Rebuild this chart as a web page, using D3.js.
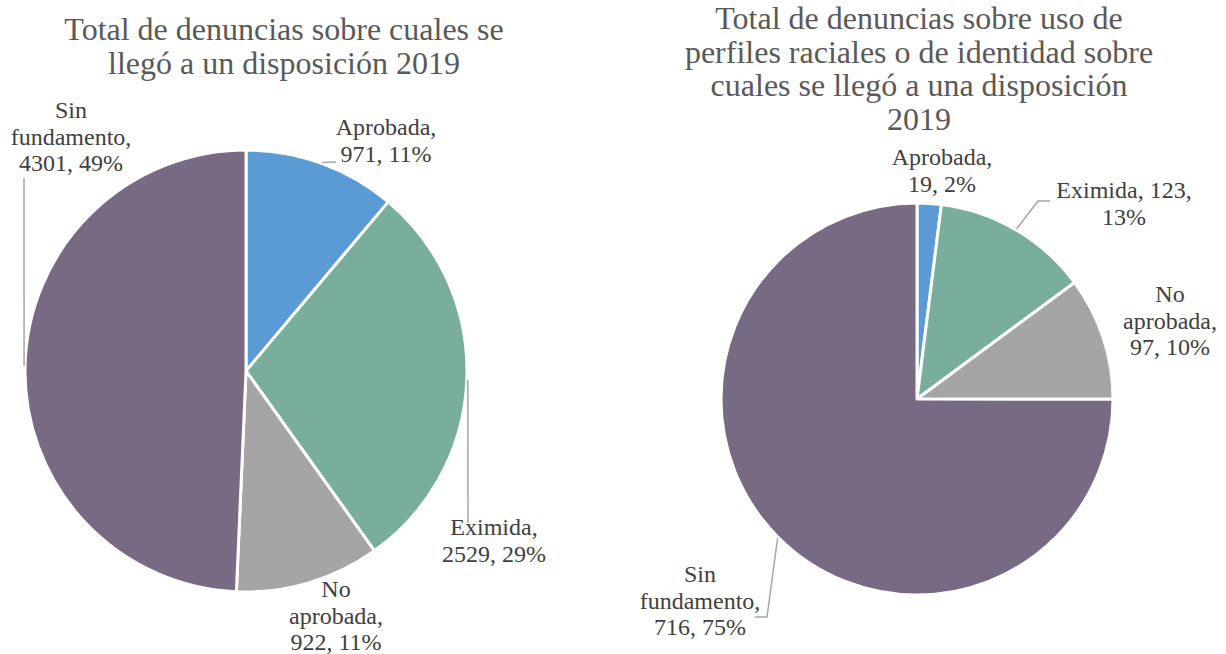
<!DOCTYPE html>
<html>
<head>
<meta charset="utf-8">
<script src="https://cdn.jsdelivr.net/npm/d3@7"></script>
<style>
  body{margin:0;background:#fff;}
  svg text{font-family:"Liberation Serif", Tinos, "Times New Roman", serif;}
</style>
</head>
<body>
<script>
// data
const categories = ["Aprobada","Eximida","No aprobada","Sin fundamento"]
const totalValues = [971,2529,922,4301]
const totalPct = ["11%","29%","11%","49%"]
const perfilValues = [19,123,97,716]
const perfilPct = ["2%","13%","10%","75%"]
const colors = ["#5b9bd5","#79ae9c","#a5a5a5","#786a82"]

const leftTitle = ["Total de denuncias sobre cuales se","llegó a un disposición 2019"]
const rightTitle = ["Total de denuncias sobre uso de","perfiles raciales o de identidad sobre","cuales se llegó a una disposición","2019"]

// label lines per slice (text split like the original)
const leftLabels = [
  ["Aprobada,","971, 11%"],
  ["Eximida,","2529, 29%"],
  ["No","aprobada,","922, 11%"],
  ["Sin","fundamento,","4301, 49%"]
]
const rightLabels = [
  ["Aprobada,","19, 2%"],
  ["Eximida, 123,","13%"],
  ["No","aprobada,","97, 10%"],
  ["Sin","fundamento,","716, 75%"]
]

let width = 1226, height = 654

const svg = d3.select("body").append("svg")
  .attr("width",width).attr("height",height)
  .style("display","block")

function pieChart(opt){
  const g = svg.append("g").attr("transform",`translate(${opt.cx},${opt.cy})`)
  const pie = d3.pie().sort(null).value(d=>d)
  const arcs = pie(opt.values)
  const arc = d3.arc().innerRadius(0).outerRadius(opt.r)

  g.selectAll("path.slice")
    .data(arcs)
    .enter()
    .append("path")
    .attr("class","slice")
    .attr("d",arc)
    .attr("fill",(d,i)=>colors[i])
    .attr("stroke","#fff")
    .attr("stroke-width",3)
    .attr("stroke-linejoin","round")

  // leader lines: start at the middle of each slice's outer edge
  arcs.forEach((a,i)=>{
    const pts = opt.leaders[i]
    if(!pts) return
    const m = (a.startAngle + a.endAngle)/2
    const start = [(opt.r+1)*Math.sin(m), -(opt.r+1)*Math.cos(m)]
    const line = [start].concat(pts.map(p=>[p[0]-opt.cx,p[1]-opt.cy]))
    g.append("path")
      .attr("d",d3.line()(line))
      .attr("fill","none")
      .attr("stroke","#a6a6a6")
      .attr("stroke-width",1.5)
  })

  // data labels
  opt.labels.forEach((lines,i)=>{
    const pos = opt.labelPos[i]
    const t = svg.append("text")
      .style("font-family",'"Liberation Serif", Tinos, serif')
      .attr("font-size",24)
      .attr("fill","#404040")
      .attr("text-anchor","middle")
    lines.forEach((s,j)=>{
      t.append("tspan").attr("x",pos[0]).attr("y",pos[1] + j*26.5).text(s)
    })
  })

  // title
  const tt = svg.append("text")
    .style("font-family",'"Liberation Serif", Tinos, serif')
    .attr("font-size",32)
    .attr("fill","#595959")
    .attr("text-anchor","middle")
  opt.title.forEach((s,j)=>{
    tt.append("tspan").attr("x",opt.titleX).attr("y",opt.titleY + j*33.5).text(s)
  })
}

pieChart({
  cx:246, cy:371, r:221,
  values:totalValues,
  labels:leftLabels,
  labelPos:[[386,135],[494,535],[336,597],[71,118]],
  leaders:[[[336,162]],[[468,523]],null,[[24,178]]],
  title:leftTitle, titleX:284, titleY:40
})

pieChart({
  cx:917, cy:399, r:196,
  values:perfilValues,
  labels:rightLabels,
  labelPos:[[942,165],[1124,198],[1170,302],[700,582]],
  leaders:[null,[[1038,201],[1050,201]],null,[[767,617],[755,617]]],
  title:rightTitle, titleX:919, titleY:29
})
</script>
</body>
</html>
